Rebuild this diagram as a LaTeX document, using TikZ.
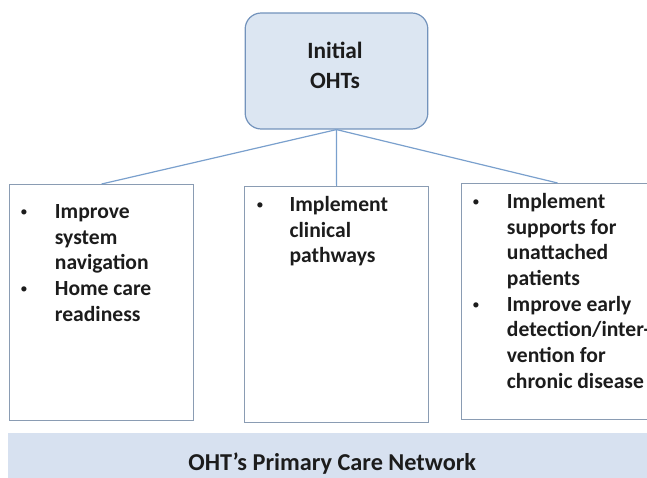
\documentclass[tikz,border=0pt]{standalone}
\usepackage{fontspec}
\setmainfont{Carlito}
\usetikzlibrary{positioning}
\definecolor{ohtfill}{HTML}{DCE6F2}
\definecolor{ohtline}{HTML}{7393BC}
\definecolor{boxline}{HTML}{8A9CB3}
\definecolor{linkblue}{HTML}{7AA0CD}
\definecolor{bandfill}{HTML}{D7E1F0}
\definecolor{inktext}{HTML}{1C1C1C}
\newcommand{\dotmark}{\raisebox{1.5pt}{\mdseries\fontsize{11}{11}\selectfont\textbullet}}
\begin{document}
\begin{tikzpicture}[x=0.75pt, y=-0.75pt, text=inktext,
  goalbox/.style={draw=boxline, line width=0.9pt, minimum width=138pt, minimum height=177pt, inner sep=0pt, anchor=north west},
  goaltext/.style={anchor=north west, inner sep=0pt, font=\bfseries\fontsize{16.2}{19.3}\selectfont},
  link/.style={draw=linkblue, line width=0.9pt}]
  \useasboundingbox (0,0) rectangle (647,478);
  \node[draw=ohtline, fill=ohtfill, line width=0.9pt, rounded corners=12pt, minimum width=137pt, minimum height=87pt, inner sep=0pt] (OHT) at (336.5,71) {};
  \node[align=center, inner sep=0pt, font=\bfseries\fontsize{17.5}{22.5}\selectfont] (OHTlabel) at (335,65) {Initial\\OHTs};
  \node[goalbox] (nav) at (9,184) {};
  \node[goalbox] (path) at (244,186) {};
  \node[goalbox, minimum width=144pt] (supp) at (461,183) {};
  \node[goaltext] (navtext) at (20,200)
      {\begin{tabular}{@{}p{26pt}@{}l@{}} \dotmark & Improve\\ & system\\ & navigation\\ \dotmark & Home care\\ & readiness \end{tabular}};
  \node[goaltext] (pathtext) at (256,193)
      {\begin{tabular}{@{}p{25pt}@{}l@{}} \dotmark & Implement\\ & clinical\\ & pathways \end{tabular}};
  \node[goaltext] (supptext) at (472,190)
      {\begin{tabular}{@{}p{26pt}@{}l@{}} \dotmark & Implement\\ & supports for\\ & unattached\\ & patients\\ \dotmark & Improve early\\ & detection/inter-\\ & vention for\\ & chronic disease \end{tabular}};
  \node[fill=bandfill, minimum width=486pt, minimum height=45pt, inner sep=0pt, anchor=north west, font=\bfseries\fontsize{18.2}{21}\selectfont] (network) at (8,433) {OHT’s Primary Care Network};
  \draw[link] (OHT.south) -- (nav.north);
  \draw[link] (OHT.south) -- (path.north);
  \draw[link] (OHT.south) -- (supp.north);
\end{tikzpicture}
\end{document}
